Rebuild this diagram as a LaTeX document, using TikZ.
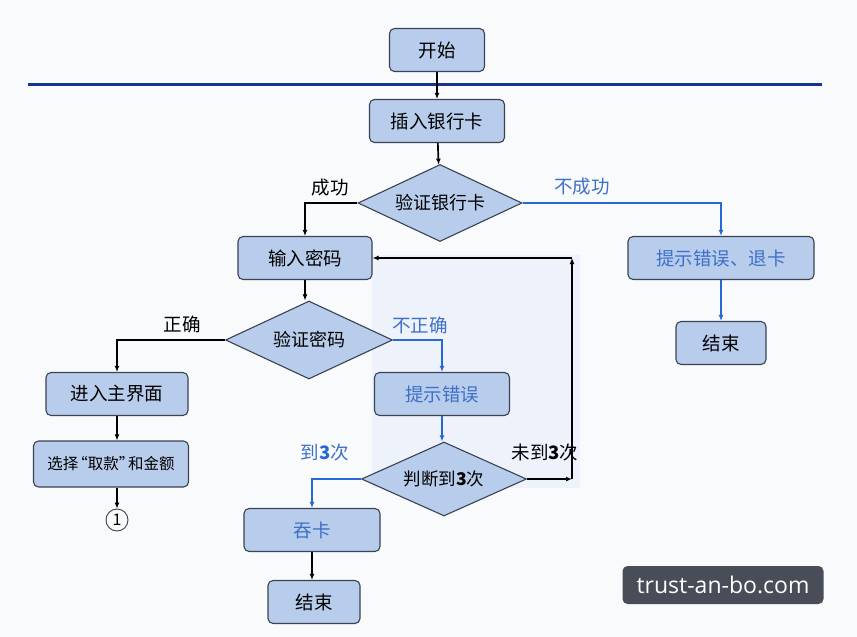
\documentclass[tikz,border=0pt]{standalone}
\usepackage{fontspec}
\setmainfont{Noto Sans CJK SC}
\newfontfamily\wmfont{Open Sans}
\usepackage{xcolor}
\usepackage{tikz}
\usetikzlibrary{arrows.meta,positioning,shapes.geometric,calc}
\definecolor{boxfill}{RGB}{184,204,236}
\definecolor{boxline}{RGB}{58,66,84}
\definecolor{lineblue}{RGB}{40,104,212}
\definecolor{textblue}{RGB}{62,112,200}
\definecolor{navyline}{RGB}{22,52,140}
\definecolor{pagebg}{RGB}{248,250,251}
\definecolor{zonebg}{RGB}{238,242,250}
\definecolor{wmfill}{RGB}{72,77,87}

\begin{document}
\begin{tikzpicture}[x=1pt, y=-1pt,
  box/.style={draw=boxline, line width=1.1pt, rounded corners=5pt, fill=boxfill, align=center, minimum height=43pt, inner sep=0pt, font=\fontsize{18.5}{22}\selectfont},
  decide/.style={diamond, draw=boxline, line width=1.1pt, fill=boxfill, aspect=2.2, inner sep=0pt, font=\fontsize{18}{21}\selectfont},
  lbl/.style={font=\fontsize{18.5}{22}\selectfont},
  arr/.style={-{Latex[length=6pt,width=5pt]}, line width=1.7pt},
  barr/.style={arr, draw=lineblue}
]
\fill[pagebg] (0,0) rectangle (857,637);
\useasboundingbox (0,0) rectangle (857,637);
\fill[zonebg] (372,255) rectangle (580,488);

\coordinate (rulel) at (28,84);
\coordinate (ruler) at (822,84);
\draw[navyline, line width=3pt] (rulel) -- (ruler);

\node[box, minimum width=95pt] (start) at (437,50) {开始};
\node[box, minimum width=135pt] (card) at (437,121) {插入银行卡};
\node[decide, minimum width=164pt, minimum height=77pt] (chkcard) at (440,203) {验证银行卡};
\node[box, minimum width=134pt] (pwd) at (305,258) {输入密码};
\node[box, minimum width=186pt, text=textblue] (err1) at (721,258) {提示错误、退卡};
\node[box, minimum width=90pt] (end1) at (721,343) {结束};
\node[decide, minimum width=167pt, minimum height=78pt] (chkpwd) at (309,340) {验证密码};
\node[box, minimum width=142pt] (menu) at (117,394) {进入主界面};
\node[box, minimum width=135pt, text=textblue] (err2) at (442,394) {提示错误};
\node[box, minimum width=155pt, minimum height=46pt, font=\fontsize{15.5}{18}\selectfont] (select) at (111,464) {选择\kern-0.4em“取款”\kern-0.4em和金额};
\node[draw=boxline, circle, line width=0.9pt, minimum size=22pt, inner sep=0pt, font=\rmfamily\fontsize{16}{16}\selectfont] (jump) at (117,520) {1};
\node[decide, minimum width=165pt, minimum height=74pt, font=\fontsize{17.5}{21}\selectfont] (count) at (444,479) {判断到\textbf{3}次};
\node[box, minimum width=136pt, text=textblue] (eat) at (312,530) {吞卡};
\node[box, minimum width=92pt] (end2) at (314,602) {结束};

\node[lbl] (okcard) at (330,188) {成功};
\node[lbl, text=textblue] (nocard) at (582,187) {不成功};
\node[lbl] (okpwd) at (182,324) {正确};
\node[lbl, text=textblue] (nopwd) at (420,325) {不正确};
\node[lbl, text=textblue] (hit) at (325,453) {到\textbf{\color{lineblue}3}次};
\node[lbl] (miss) at (545,453) {未到\textbf{3}次};

\coordinate (loopa) at (572,479);
\coordinate (loopb) at (572,258);

\draw[arr] (start) -- (card);
\draw[arr] (card) -- (chkcard);
\draw[arr] (chkcard.west) -| (pwd.north);
\draw[barr] (chkcard.east) -| (err1.north);
\draw[barr] (err1) -- (end1);
\draw[arr] (pwd) -- (pwd |- chkpwd.north);
\draw[arr] (chkpwd.west) -| (menu.north);
\draw[barr] (chkpwd.east) -| (err2.north);
\draw[arr] (menu) -- (menu |- select.north);
\draw[arr] (menu |- select.south) -- (jump.north);
\draw[barr] (err2) -- (err2 |- count.north);
\draw[barr] (count.west) -| (eat.north);
\draw[arr] (eat) -- (eat |- end2.north);
\draw[arr] (count.east) -- (loopa);
\draw[arr] (loopa) -- (loopb);
\draw[arr] (loopb) -- (pwd.east);

\node[fill=wmfill, rounded corners=5pt, minimum width=201pt, minimum height=38pt, text=white, font=\wmfont\fontsize{23}{26}\selectfont] (mark) at (723,585) {trust-an-bo.com};
\end{tikzpicture}
\end{document}
